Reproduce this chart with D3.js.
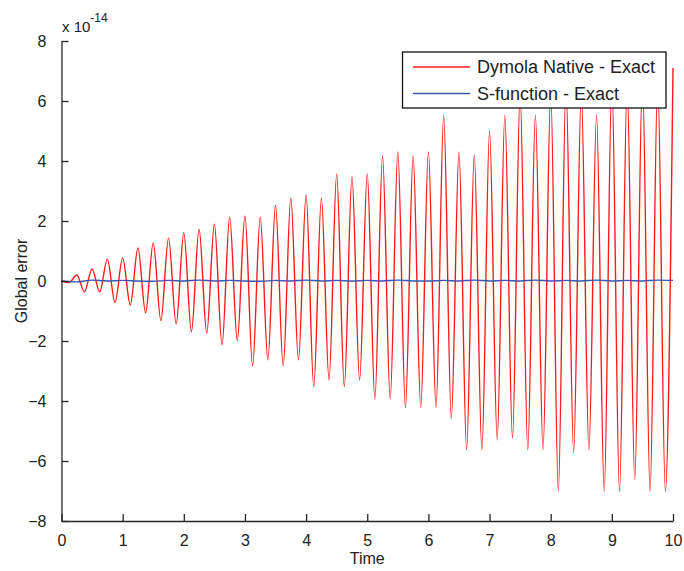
<!DOCTYPE html>
<html>
<head>
<meta charset="utf-8">
<script src="https://cdn.jsdelivr.net/npm/d3@7"></script>
<style>
  html, body { margin: 0; padding: 0; background: #fff; }
  svg { display: block; }
  text { font-family: Arial, "Liberation Sans", Helvetica, sans-serif; fill: #222; }
</style>
</head>
<body>
<svg id="chart" width="684" height="571"></svg>
<script>
// ---- Data (values in units of 1e-14) ----
const xTicks = [0, 1, 2, 3, 4, 5, 6, 7, 8, 9, 10];
const yTicks = [-8, -6, -4, -2, 0, 2, 4, 6, 8];
const seriesNames = ["Dymola Native - Exact", "S-function - Exact"];

// Peaks of the red series at t = 0.25, 0.50, ..., 10.00
const redPeaks = [0.20, 0.40, 0.73, 0.77, 1.10, 1.27, 1.43, 1.60, 1.73, 1.90,
                  2.13, 2.17, 2.13, 2.53, 2.77, 2.87, 2.77, 3.57, 3.47, 3.57,
                  4.17, 4.30, 4.17, 4.30, 5.53, 4.30, 4.20, 5.00, 5.53, 6.20,
                  5.53, 6.30, 6.50, 6.30, 5.53, 6.60, 6.50, 6.80, 6.70, 7.10];
// Troughs of the red series at t = 0.125, 0.375, ..., 9.875
const redTroughs = [-0.05, -0.36, -0.36, -0.72, -0.80, -1.06, -1.32, -1.43, -1.69, -1.74,
                    -2.13, -1.99, -2.83, -2.63, -2.83, -2.63, -3.52, -3.30, -3.52, -3.30,
                    -3.94, -3.94, -4.21, -4.21, -4.21, -4.58, -5.63, -5.63, -5.30, -5.24,
                    -5.63, -5.63, -7.02, -5.72, -5.63, -7.02, -7.02, -6.61, -7.02, -7.02];
// Blue series sampled at t = 0, 0.25, ..., 10
const blueValues = [0.00, -0.03, 0.03, 0.00, 0.02, 0.00, -0.01, 0.02, 0.00, 0.03,
                    0.00, 0.02, 0.00, -0.01, 0.02, 0.00, 0.03, 0.00, 0.02, 0.00,
                    0.02, 0.00, 0.03, 0.00, 0.00, 0.02, 0.00, 0.03, 0.00, 0.02,
                    0.00, 0.03, 0.00, 0.02, 0.00, 0.03, 0.00, 0.02, 0.00, 0.03, 0.02];

// ---- Build point lists ----
const redData = [{t: 0, v: 0}];
redTroughs.forEach((v, i) => {
  redData.push({t: 0.125 + 0.25 * i, v: v});
  redData.push({t: 0.25 + 0.25 * i, v: redPeaks[i]});
});
const blueData = blueValues.map((v, i) => ({t: 0.25 * i, v: v}));

// ---- Layout ----
const svg = d3.select("#chart");
const mLeft = 61.5, mRight = 673, mTop = 41, mBottom = 521;
const x = d3.scaleLinear().domain([0, 10]).range([mLeft, mRight]);
const y = d3.scaleLinear().domain([-8, 8]).range([mBottom, mTop]);
const axisColor = "#262626";

// ---- Lines ----
const line = d3.line().x(d => x(d.t)).y(d => y(d.v)).curve(d3.curveMonotoneX);
svg.append("path").datum(redData)
  .attr("d", line).attr("fill", "none")
  .attr("stroke", "#ff1a1a").attr("stroke-width", 1.4);
svg.append("path").datum(blueData)
  .attr("d", line).attr("fill", "none")
  .attr("stroke", "#3a56b0").attr("stroke-width", 1.4);

// ---- Axes ----
const xAxis = d3.axisBottom(x).tickValues(xTicks).tickSizeInner(-7).tickSizeOuter(0).tickPadding(14)
  .tickFormat(d3.format("d"));
const gx = svg.append("g").attr("transform", `translate(0,${mBottom})`).call(xAxis);
const yAxis = d3.axisLeft(y).tickValues(yTicks).tickSizeInner(-7).tickSizeOuter(0).tickPadding(15)
  .tickFormat(d3.format("d"));
const gy = svg.append("g").attr("transform", `translate(${mLeft},0)`).call(yAxis);
[gx, gy].forEach(g => {
  g.select(".domain").attr("stroke", axisColor).attr("stroke-width", 1.3);
  g.selectAll(".tick line").attr("stroke", axisColor).attr("stroke-width", 1.3);
  g.selectAll(".tick text").style("font-size", "16px").attr("fill", "#222")
    .style("font-family", "Arial, 'Liberation Sans', sans-serif");
});
gx.selectAll(".tick text").attr("dy", "0.71em");

// ---- Exponent label ----
const expo = svg.append("text").attr("x", 62).attr("y", 32).style("font-size", "15px");
expo.append("tspan").text("x 10");
expo.append("tspan").attr("dy", -10).style("font-size", "12px").text("-14");

// ---- Axis titles ----
svg.append("text").attr("x", (mLeft + mRight) / 2).attr("y", 564)
  .attr("text-anchor", "middle").style("font-size", "16px").text("Time");
svg.append("text").attr("transform", `translate(27,${(mTop + mBottom) / 2}) rotate(-90)`)
  .attr("text-anchor", "middle").style("font-size", "16px").text("Global error");

// ---- Legend ----
const lg = svg.append("g");
lg.append("rect").attr("x", 402.5).attr("y", 52).attr("width", 263.5).attr("height", 56)
  .attr("fill", "#fff").attr("stroke", "#111").attr("stroke-width", 1.3);
const legendColors = ["#ff1a1a", "#3a56b0"];
seriesNames.forEach((name, i) => {
  const yy = 67 + i * 26.5;
  lg.append("line").attr("x1", 413).attr("x2", 470).attr("y1", yy).attr("y2", yy)
    .attr("stroke", legendColors[i]).attr("stroke-width", 1.3);
  lg.append("text").attr("x", 477).attr("y", yy).attr("dy", "0.35em")
    .style("font-size", "18px").text(name);
});
</script>
</body>
</html>
